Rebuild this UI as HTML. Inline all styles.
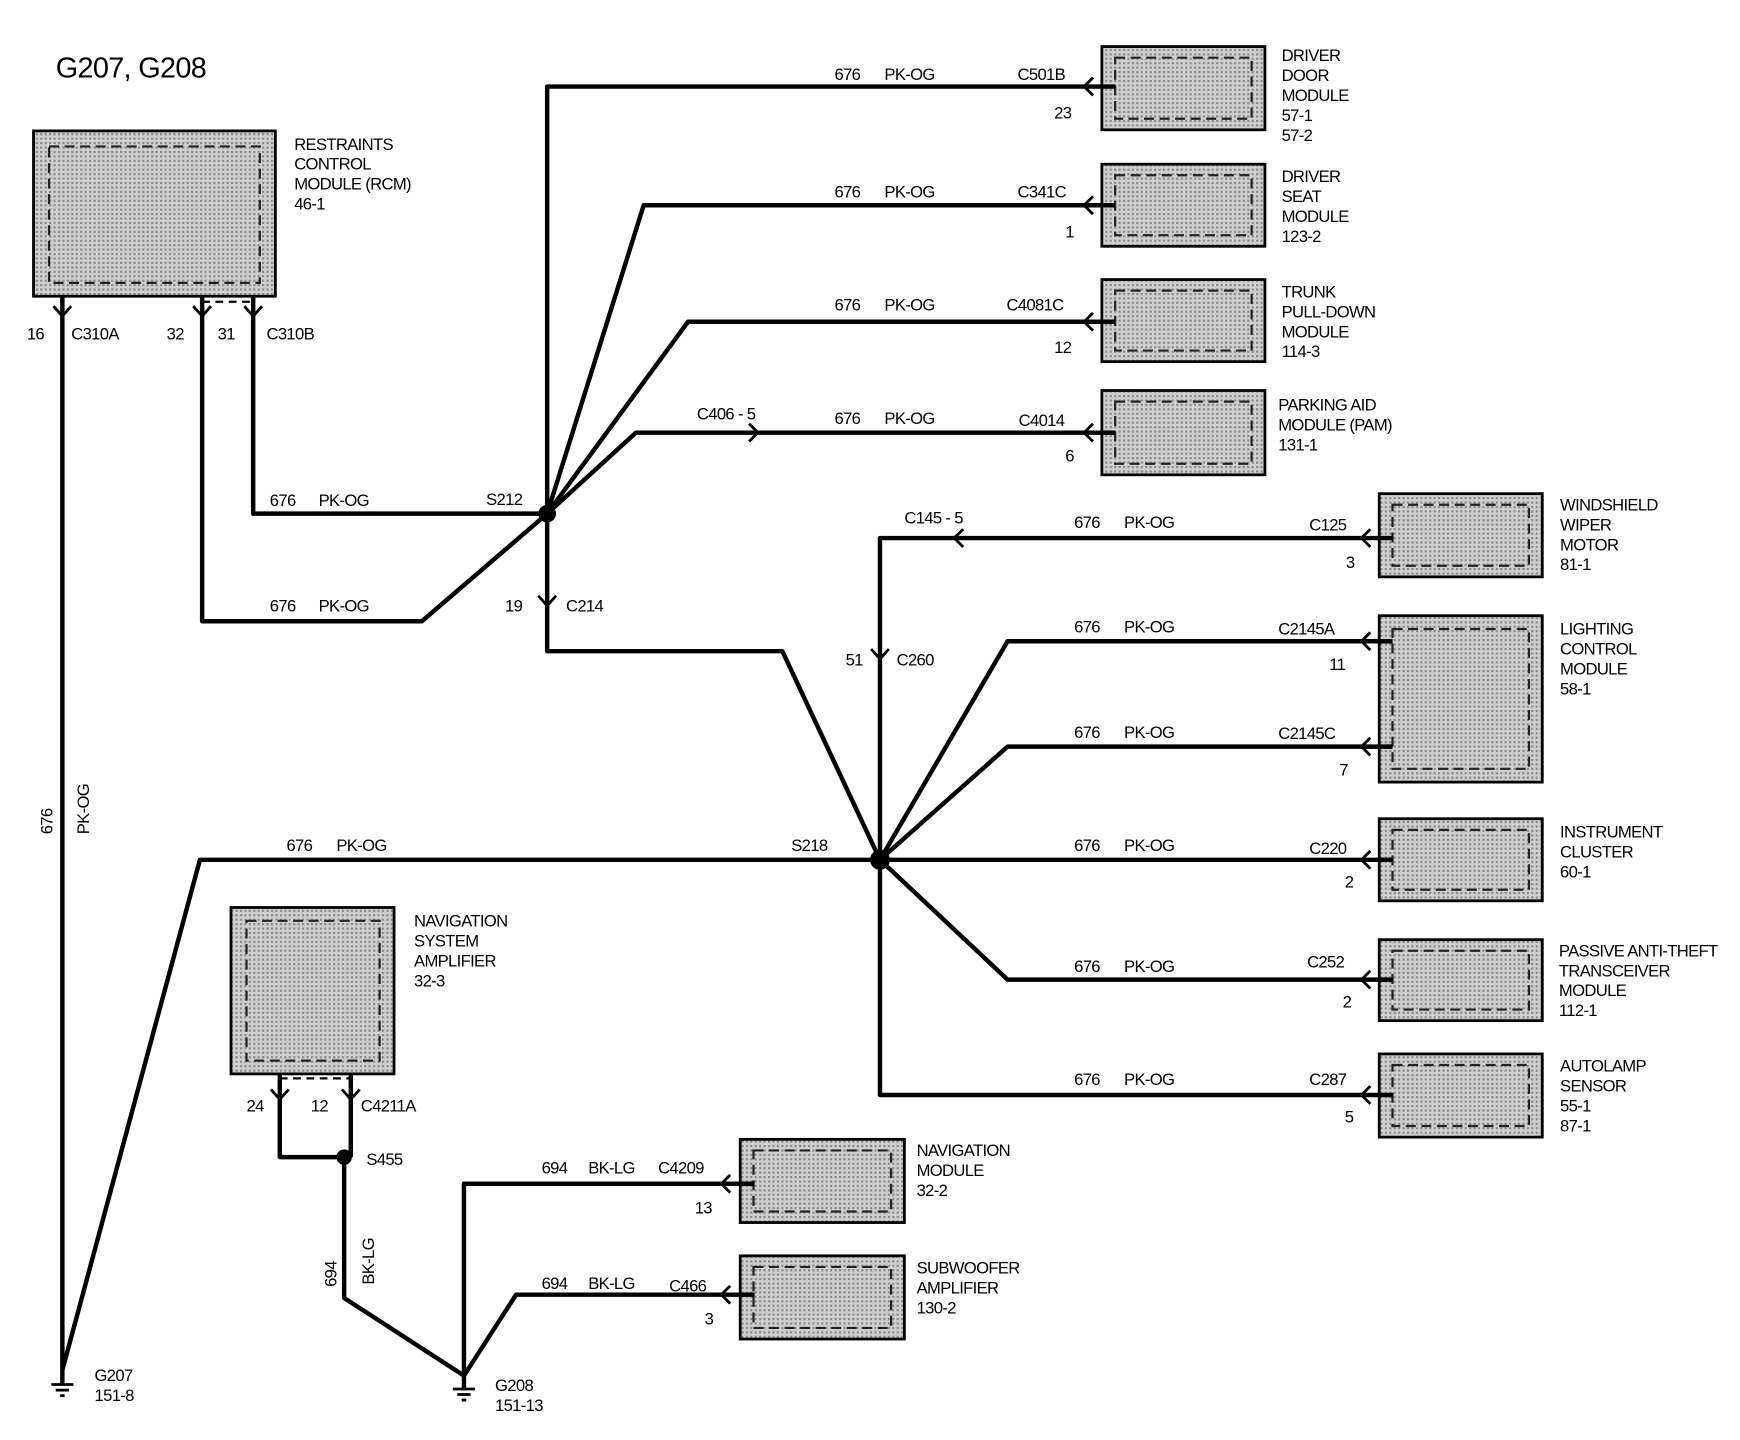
<!DOCTYPE html>
<html><head><meta charset="utf-8"><style>
html,body{margin:0;padding:0;background:#fff;}
svg{display:block}
text{font-family:"Liberation Sans",sans-serif;font-size:15px;fill:#000;letter-spacing:-0.6px}
.w{stroke:#000;stroke-width:4;fill:none;stroke-linejoin:round}
.a{stroke:#000;stroke-width:2.5;fill:none}
.b{fill:#bcbcbc;stroke:#000;stroke-width:2.5}
.d{fill:none;stroke:#222;stroke-width:2;stroke-dasharray:9 5}
</style></head><body>
<svg width="1740" height="1440" viewBox="0 0 1568 1298" xmlns="http://www.w3.org/2000/svg">
<defs>
<pattern id="p" width="4" height="4" patternUnits="userSpaceOnUse"><rect width="4" height="4" fill="#d0d0d0"/><rect width="2" height="2" fill="#8a8a8a"/></pattern>
</defs>
<text x="50" y="70" style="font-size:26px">G207, G208</text>

<!-- boxes -->
<g>
<rect class="b" x="30" y="118" width="218" height="149" fill="url(#p)" style="fill:url(#p)"/><rect class="d" x="44" y="132" width="190" height="123"/>
<rect class="b" x="993" y="42" width="147" height="75" style="fill:url(#p)"/><rect class="d" x="1005" y="52" width="123" height="55"/>
<rect class="b" x="993" y="148" width="147" height="74" style="fill:url(#p)"/><rect class="d" x="1005" y="158" width="123" height="54"/>
<rect class="b" x="993" y="252" width="147" height="74" style="fill:url(#p)"/><rect class="d" x="1005" y="262" width="123" height="54"/>
<rect class="b" x="993" y="352" width="147" height="76" style="fill:url(#p)"/><rect class="d" x="1005" y="362" width="123" height="56"/>
<rect class="b" x="1243" y="445" width="147" height="75" style="fill:url(#p)"/><rect class="d" x="1255" y="455" width="123" height="55"/>
<rect class="b" x="1243" y="555" width="147" height="150" style="fill:url(#p)"/><rect class="d" x="1255" y="567" width="123" height="126"/>
<rect class="b" x="1243" y="738" width="147" height="74" style="fill:url(#p)"/><rect class="d" x="1255" y="748" width="123" height="54"/>
<rect class="b" x="1243" y="847" width="147" height="73" style="fill:url(#p)"/><rect class="d" x="1255" y="857" width="123" height="53"/>
<rect class="b" x="1243" y="950" width="147" height="75" style="fill:url(#p)"/><rect class="d" x="1255" y="960" width="123" height="55"/>
<rect class="b" x="208" y="818" width="147" height="150" style="fill:url(#p)"/><rect class="d" x="222" y="830" width="120" height="126"/>
<rect class="b" x="667" y="1027" width="148" height="75" style="fill:url(#p)"/><rect class="d" x="679" y="1037" width="124" height="55"/>
<rect class="b" x="667" y="1132" width="148" height="75" style="fill:url(#p)"/><rect class="d" x="679" y="1142" width="124" height="55"/>
</g>

<!-- wires -->
<g class="w">
<path d="M56 267 V1235"/>
<path d="M182 267 V560 H380 L493 463"/>
<path d="M228 267 V463 H493"/>
<path d="M182 272 H228" style="stroke-width:2;stroke-dasharray:7 5"/>
<path d="M493 463 V78 H1005"/>
<path d="M493 463 L580 185 H1005"/>
<path d="M493 463 L620 290 H1005"/>
<path d="M493 463 L573 390 H1005"/>
<path d="M493 463 V587 H705 L793 775"/>
<path d="M793 775 V485 H1255"/>
<path d="M793 775 L908 578 H1255"/>
<path d="M793 775 L908 673 H1255"/>
<path d="M793 775 H1255"/>
<path d="M793 775 L908 883 H1255"/>
<path d="M793 775 V987 H1255"/>
<path d="M793 775 H180 L56 1235"/>
<path d="M252 968 V1043 H310"/>
<path d="M316 968 V1043"/>
<path d="M252 972 H316" style="stroke-width:2;stroke-dasharray:7 5"/>
<path d="M310 1043 V1170 L418 1240"/>
<path d="M418 1240 V1067 H680"/>
<path d="M418 1240 L465 1167 H680"/>
<path d="M56 1235 V1248"/><path d="M418 1240 V1252"/>
</g>
<g fill="#000"><circle cx="493" cy="463" r="8"/><circle cx="793" cy="775" r="9"/><circle cx="310" cy="1043" r="7"/></g>

<!-- arrows -->
<g class="a">
<path d="M48 276 L56 285 L64 276"/><path d="M174 276 L182 285 L190 276"/><path d="M220 276 L228 285 L236 276"/>
<path d="M244 982 L252 991 L260 982"/><path d="M308 982 L316 991 L324 982"/>
<path d="M485 537 L493 546 L501 537"/><path d="M785 585 L793 594 L801 585"/>
<path d="M985 70 L977 78 L985 86"/><path d="M985 177 L977 185 L985 193"/><path d="M985 282 L977 290 L985 298"/><path d="M985 382 L977 390 L985 398"/>
<path d="M675 382 L683 390 L675 398"/><path d="M868 477 L860 485 L868 493"/>
<path d="M1235 477 L1227 485 L1235 493"/><path d="M1235 570 L1227 578 L1235 586"/><path d="M1235 665 L1227 673 L1235 681"/>
<path d="M1235 767 L1227 775 L1235 783"/><path d="M1235 875 L1227 883 L1235 891"/><path d="M1235 979 L1227 987 L1235 995"/>
<path d="M658 1059 L650 1067 L658 1075"/><path d="M658 1159 L650 1167 L658 1175"/>
<!-- grounds -->
<path d="M46 1248 H66 M50 1253 H62 M54 1258 H58"/>
<path d="M408 1252 H428 M412 1257 H424 M416 1262 H420"/>
</g>

<!-- labels -->
<g>
<text x="265" y="135">RESTRAINTS</text><text x="265" y="153">CONTROL</text><text x="265" y="171">MODULE (RCM)</text><text x="265" y="189">46-1</text>
<text x="24" y="306">16</text><text x="64" y="306">C310A</text><text x="150" y="306">32</text><text x="196" y="306">31</text><text x="240" y="306">C310B</text>
<text x="243" y="456">676</text><text x="287" y="456">PK-OG</text><text x="438" y="455">S212</text>
<text x="243" y="551">676</text><text x="287" y="551">PK-OG</text>
<text x="455" y="551">19</text><text x="510" y="551">C214</text>
<text x="752" y="72">676</text><text x="797" y="72">PK-OG</text><text x="917" y="72">C501B</text><text x="950" y="107">23</text>
<text x="752" y="178">676</text><text x="797" y="178">PK-OG</text><text x="917" y="178">C341C</text><text x="960" y="214">1</text>
<text x="752" y="280">676</text><text x="797" y="280">PK-OG</text><text x="907" y="280">C4081C</text><text x="950" y="318">12</text>
<text x="628" y="378">C406 - 5</text><text x="752" y="382">676</text><text x="797" y="382">PK-OG</text><text x="918" y="384">C4014</text><text x="960" y="416">6</text>
<text x="1155" y="55">DRIVER</text><text x="1155" y="73">DOOR</text><text x="1155" y="91">MODULE</text><text x="1155" y="109">57-1</text><text x="1155" y="127">57-2</text>
<text x="1155" y="164">DRIVER</text><text x="1155" y="182">SEAT</text><text x="1155" y="200">MODULE</text><text x="1155" y="218">123-2</text>
<text x="1155" y="268">TRUNK</text><text x="1155" y="286">PULL-DOWN</text><text x="1155" y="304">MODULE</text><text x="1155" y="322">114-3</text>
<text x="1152" y="370">PARKING AID</text><text x="1152" y="388">MODULE (PAM)</text><text x="1152" y="406">131-1</text>
<text x="815" y="472">C145 - 5</text><text x="968" y="476">676</text><text x="1013" y="476">PK-OG</text><text x="1180" y="478">C125</text><text x="1213" y="512">3</text>
<text x="762" y="600">51</text><text x="808" y="600">C260</text>
<text x="968" y="570">676</text><text x="1013" y="570">PK-OG</text><text x="1152" y="572">C2145A</text><text x="1198" y="604">11</text>
<text x="968" y="665">676</text><text x="1013" y="665">PK-OG</text><text x="1152" y="666">C2145C</text><text x="1207" y="699">7</text>
<text x="258" y="767">676</text><text x="303" y="767">PK-OG</text><text x="713" y="767">S218</text>
<text x="968" y="767">676</text><text x="1013" y="767">PK-OG</text><text x="1180" y="770">C220</text><text x="1212" y="800">2</text>
<text x="968" y="876">676</text><text x="1013" y="876">PK-OG</text><text x="1178" y="872">C252</text><text x="1210" y="908">2</text>
<text x="968" y="978">676</text><text x="1013" y="978">PK-OG</text><text x="1180" y="978">C287</text><text x="1212" y="1012">5</text>
<text x="1406" y="460">WINDSHIELD</text><text x="1406" y="478">WIPER</text><text x="1406" y="496">MOTOR</text><text x="1406" y="514">81-1</text>
<text x="1406" y="572">LIGHTING</text><text x="1406" y="590">CONTROL</text><text x="1406" y="608">MODULE</text><text x="1406" y="626">58-1</text>
<text x="1406" y="755">INSTRUMENT</text><text x="1406" y="773">CLUSTER</text><text x="1406" y="791">60-1</text>
<text x="1405" y="862">PASSIVE ANTI-THEFT</text><text x="1405" y="880">TRANSCEIVER</text><text x="1405" y="898">MODULE</text><text x="1405" y="916">112-1</text>
<text x="1406" y="966">AUTOLAMP</text><text x="1406" y="984">SENSOR</text><text x="1406" y="1002">55-1</text><text x="1406" y="1020">87-1</text>
<text x="373" y="835">NAVIGATION</text><text x="373" y="853">SYSTEM</text><text x="373" y="871">AMPLIFIER</text><text x="373" y="889">32-3</text>
<text x="222" y="1002">24</text><text x="280" y="1002">12</text><text x="325" y="1002">C4211A</text>
<text x="330" y="1050">S455</text>
<text x="488" y="1058">694</text><text x="530" y="1058">BK-LG</text><text x="593" y="1058">C4209</text><text x="626" y="1094">13</text>
<text x="488" y="1162">694</text><text x="530" y="1162">BK-LG</text><text x="603" y="1164">C466</text><text x="635" y="1194">3</text>
<text x="826" y="1042">NAVIGATION</text><text x="826" y="1060">MODULE</text><text x="826" y="1078">32-2</text>
<text x="826" y="1148">SUBWOOFER</text><text x="826" y="1166">AMPLIFIER</text><text x="826" y="1184">130-2</text>
<text x="85" y="1245">G207</text><text x="85" y="1263">151-8</text>
<text x="446" y="1254">G208</text><text x="446" y="1272">151-13</text>
<text transform="translate(47,752) rotate(-90)">676</text>
<text transform="translate(80,752) rotate(-90)">PK-OG</text>
<text transform="translate(303,1160) rotate(-90)">694</text>
<text transform="translate(337,1158) rotate(-90)">BK-LG</text>
</g>
</svg>
</body></html>
